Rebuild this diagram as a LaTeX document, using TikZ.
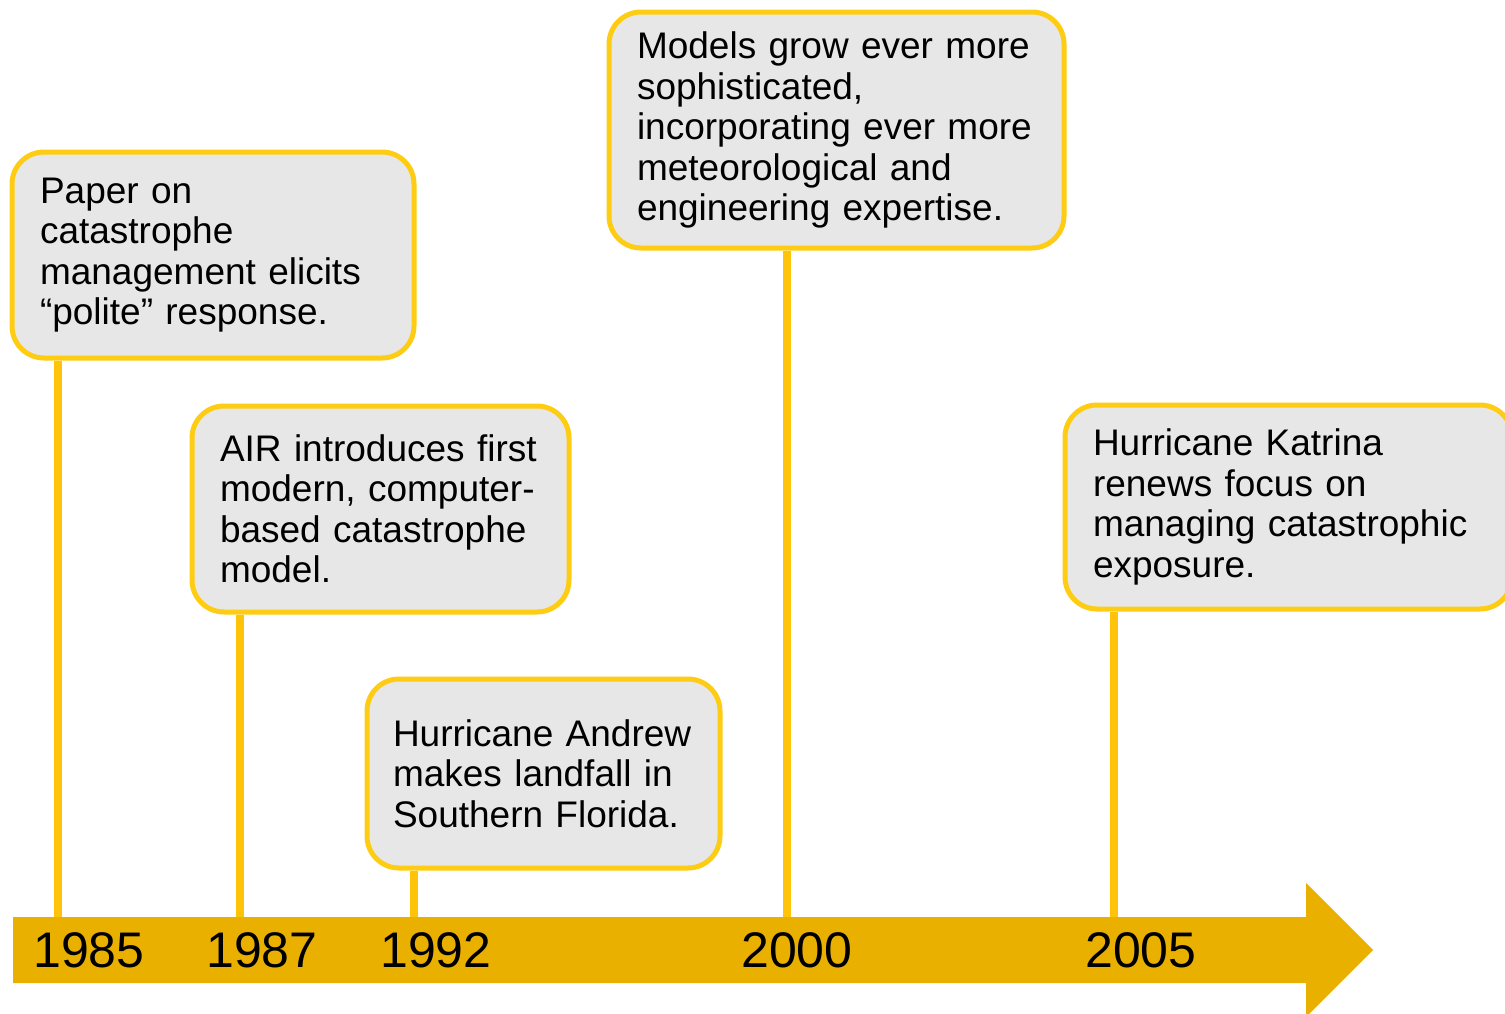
\documentclass[tikz,border=0pt]{standalone}
\usepackage{fontspec}
\setmainfont{Liberation Sans}
\usepackage{xcolor}
\usepackage{tikz}
\usetikzlibrary{positioning}

\definecolor{bandgold}{RGB}{234,176,0}
\definecolor{stemgold}{RGB}{255,196,10}
\definecolor{boxedge}{RGB}{255,204,20}
\definecolor{boxfill}{RGB}{231,231,231}

\begin{document}
\begin{tikzpicture}[x=0.5pt, y=-0.5pt,
        event/.style={draw=boxedge, fill=boxfill, line width=2.5pt, rounded corners=16pt, inner xsep=14pt, inner ysep=0pt, align=left, font=\fontsize{18.5}{20.25}\selectfont},
        stem/.style={draw=stemgold, line width=4pt},
        year/.style={font=\fontsize{25}{30}\selectfont, inner sep=0pt}]
                \useasboundingbox (0,0) rectangle (1505,1013);
                % timeline band
                \fill[bandgold] (13,917) -- (1306,917) -- (1306,883) -- (1373,950) -- (1306,1017) -- (1306,983) -- (13,983) -- cycle;

                \coordinate (t1985) at (58,917);
                \coordinate (t1987) at (240,917);
                \coordinate (t1992) at (414,917);
                \coordinate (t2000) at (787,917);
                \coordinate (t2005) at (1114,917);

                \node[year] (y1985) at (89,950) {1985};
                \node[year] (y1987) at (262,950) {1987};
                \node[year] (y1992) at (436,950) {1992};
                \node[year] (y2000) at (797,950) {2000};
                \node[year] (y2005) at (1141,950) {2005};

                \node[event, text width=173pt, minimum height=103pt] (paper) at (213,255) {Paper on\\catastrophe\\management elicits\\``polite'' response.};
                \node[event, text width=160.5pt, minimum height=103pt] (air) at (380.5,509) {AIR introduces first\\modern, computer-\\based catastrophe\\model.};
                \node[event, inner xsep=13pt, text width=150.5pt, minimum height=94.5pt] (andrew) at (543.5,773.5) {Hurricane Andrew\\makes landfall in\\Southern Florida.};
                \node[event, text width=199.5pt, minimum height=118pt] (models) at (836.5,130) {Models grow ever more\\sophisticated,\\incorporating ever more\\meteorological and\\engineering expertise.};
                \node[event, text width=195.5pt, minimum height=102pt] (katrina) at (1288.5,507) {Hurricane Katrina\\renews focus on\\managing catastrophic\\exposure.};

                \draw[stem] (paper.south -| t1985) -- (t1985);
                \draw[stem] (air.south -| t1987) -- (t1987);
                \draw[stem] (andrew.south -| t1992) -- (t1992);
                \draw[stem] (models.south -| t2000) -- (t2000);
                \draw[stem] (katrina.south -| t2005) -- (t2005);
\end{tikzpicture}
\end{document}
